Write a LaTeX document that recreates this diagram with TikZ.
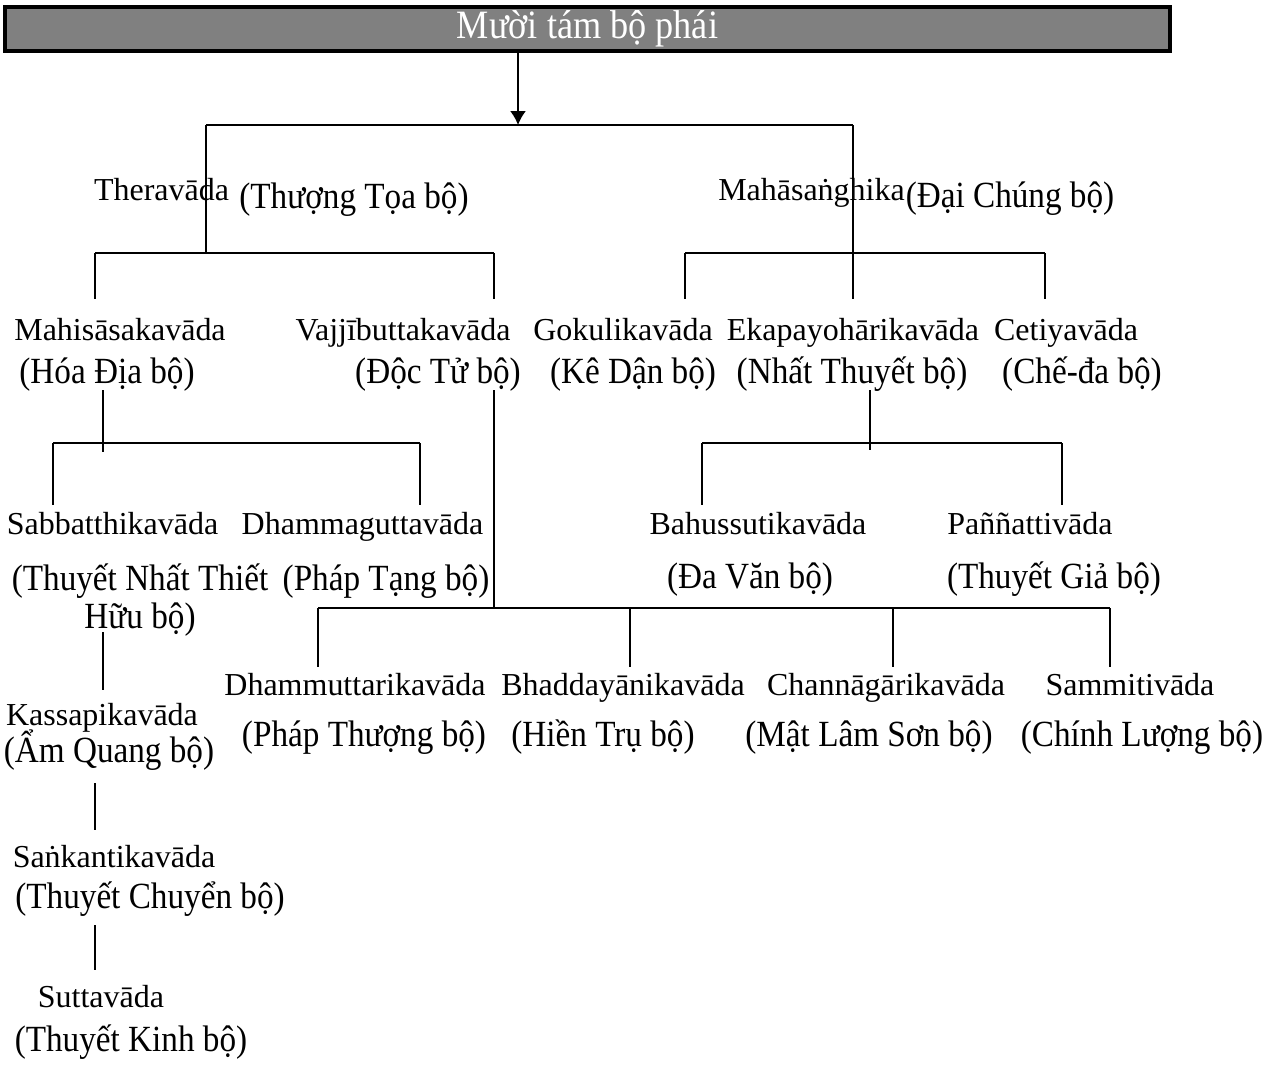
\documentclass[tikz,border=0pt]{standalone}
\usepackage{fontspec}
\setmainfont{Liberation Serif}
\newfontfamily\vnfont{Liberation Serif}[FakeStretch=0.9]
\usetikzlibrary{arrows.meta}
\tikzset{
  pali/.style ={anchor=base, inner sep=0pt, font=\fontsize{18.2}{20}\selectfont},
  viet/.style ={anchor=base, inner sep=0pt, font=\vnfont\fontsize{21}{23}\selectfont},
  head/.style ={draw, line width=2pt, fill=black!50, text=white, inner sep=0pt,
                minimum width=23.3cm, minimum height=0.88cm,
                font=\vnfont\fontsize{22.9}{24}\selectfont},
  link/.style ={line width=1pt},
}

\begin{document}
\begin{tikzpicture}[>={Latex[length=2.8mm,width=3.2mm]}]
  \useasboundingbox (0,0) rectangle (25.46,-21.36);
  \node[head] (title) at (11.75,-0.58) {Mười tám bộ phái};

  % hai bo chinh
  \node[pali] (thera) at (3.23,-4.0)  {Theravāda};
  \node[viet] (therav) at (7.08,-4.16) {(Thượng Tọa bộ)};
  \node[pali] (maha) at (16.23,-4.0)  {Mahāsaṅghika};
  \node[viet] (mahav) at (20.2,-4.14) {(Đại Chúng bộ)};

  % tang 2
  \node[pali] (mahi) at (2.4,-6.8)    {Mahisāsakavāda};
  \node[viet] (mahiv) at (2.14,-7.66) {(Hóa Địa bộ)};
  \node[pali] (vajji) at (8.06,-6.8)  {Vajjībuttakavāda};
  \node[viet] (vajjiv) at (8.76,-7.66) {(Độc Tử bộ)};
  \node[pali] (goku) at (12.46,-6.8)  {Gokulikavāda};
  \node[viet] (gokuv) at (12.66,-7.66) {(Kê Dận bộ)};
  \node[pali] (eka) at (17.06,-6.8)   {Ekapayohārikavāda};
  \node[viet] (ekav) at (17.04,-7.66) {(Nhất Thuyết bộ)};
  \node[pali] (ceti) at (21.32,-6.8)  {Cetiyavāda};
  \node[viet] (cetiv) at (21.64,-7.66) {(Chế-đa bộ)};

  % tang 3
  \node[pali] (sabb) at (2.25,-10.68) {Sabbatthikavāda};
  \node[viet] (sabbv) at (2.8,-11.8)  {(Thuyết Nhất Thiết};
  \node[viet] (sabbw) at (2.8,-12.56) {Hữu bộ)};
  \node[pali] (dhag) at (7.25,-10.68) {Dhammaguttavāda};
  \node[viet] (dhagv) at (7.72,-11.8) {(Pháp Tạng bộ)};
  \node[pali] (bahu) at (15.16,-10.68) {Bahussutikavāda};
  \node[viet] (bahuv) at (15.0,-11.76) {(Đa Văn bộ)};
  \node[pali] (pann) at (20.6,-10.68) {Paññattivāda};
  \node[viet] (pannv) at (21.08,-11.76) {(Thuyết Giả bộ)};

  % tang 4
  \node[pali] (dhut) at (7.1,-13.9)   {Dhammuttarikavāda};
  \node[viet] (dhutv) at (7.28,-14.92) {(Pháp Thượng bộ)};
  \node[pali] (bhad) at (12.46,-13.9) {Bhaddayānikavāda};
  \node[viet] (bhadv) at (12.06,-14.92) {(Hiền Trụ bộ)};
  \node[pali] (chan) at (17.72,-13.9) {Channāgārikavāda};
  \node[viet] (chanv) at (17.38,-14.92) {(Mật Lâm Sơn bộ)};
  \node[pali] (samm) at (22.6,-13.9)  {Sammitivāda};
  \node[viet] (sammv) at (22.84,-14.92) {(Chính Lượng bộ)};

  % nhanh doc
  \node[pali] (kass) at (2.04,-14.5)  {Kassapikavāda};
  \node[viet] (kassv) at (2.18,-15.24) {(Ẩm Quang bộ)};
  \node[pali] (sank) at (2.28,-17.34) {Saṅkantikavāda};
  \node[viet] (sankv) at (3.0,-18.16) {(Thuyết Chuyển bộ)};
  \node[pali] (sutt) at (2.02,-20.14) {Suttavāda};
  \node[viet] (suttv) at (2.62,-21.02) {(Thuyết Kinh bộ)};

  % diem noi
  \coordinate (j0) at (10.36,-2.5);
  \coordinate (j0l) at (4.12,-2.5);
  \coordinate (j0r) at (17.06,-2.5);
  \coordinate (j1) at (4.12,-5.06);
  \coordinate (j1l) at (1.9,-5.06);
  \coordinate (j1r) at (9.88,-5.06);
  \coordinate (j2l) at (13.7,-5.06);
  \coordinate (j2r) at (20.9,-5.06);
  \coordinate (lv2) at (0,-5.98);
  \coordinate (m0) at (2.06,-7.8);
  \coordinate (m1) at (2.06,-9.04);
  \coordinate (ml) at (1.06,-8.86);
  \coordinate (mr) at (8.4,-8.86);
  \coordinate (e0) at (17.4,-7.8);
  \coordinate (e1) at (17.4,-9.0);
  \coordinate (el) at (14.04,-8.86);
  \coordinate (er) at (21.24,-8.86);
  \coordinate (lv3) at (0,-10.1);
  \coordinate (v0) at (9.88,-7.8);
  \coordinate (v1) at (9.88,-12.16);
  \coordinate (vl) at (6.36,-12.16);
  \coordinate (vb) at (12.6,-12.16);
  \coordinate (vc) at (17.86,-12.16);
  \coordinate (vr) at (22.2,-12.16);
  \coordinate (lv4) at (0,-13.34);
  \coordinate (k0) at (2.06,-12.64);
  \coordinate (k1) at (2.06,-13.8);
  \coordinate (s0) at (1.9,-15.66);
  \coordinate (s1) at (1.9,-16.6);
  \coordinate (t0) at (1.9,-18.5);
  \coordinate (t1) at (1.9,-19.4);

  \draw[link,->] (title.south -| j0) -- (j0);
  \draw[link] (j0l) -- (j0r);
  \draw[link] (j0l) -- (j1);
  \draw[link] (j0r) -- (j0r |- lv2);
  \draw[link] (j1l) -- (j1r);
  \draw[link] (j2l) -- (j2r);
  \foreach \c in {j1l,j1r,j2l,j2r}
    \draw[link] (\c) -- (\c |- lv2);

  \draw[link] (m0) -- (m1);
  \draw[link] (ml) -- (mr);
  \draw[link] (e0) -- (e1);
  \draw[link] (el) -- (er);
  \foreach \c in {ml,mr,el,er}
    \draw[link] (\c) -- (\c |- lv3);

  \draw[link] (v0) -- (v1);
  \draw[link] (vl) -- (vr);
  \foreach \c in {vl,vb,vc,vr}
    \draw[link] (\c) -- (\c |- lv4);

  \draw[link] (k0) -- (k1);
  \draw[link] (s0) -- (s1);
  \draw[link] (t0) -- (t1);
\end{tikzpicture}
\end{document}
